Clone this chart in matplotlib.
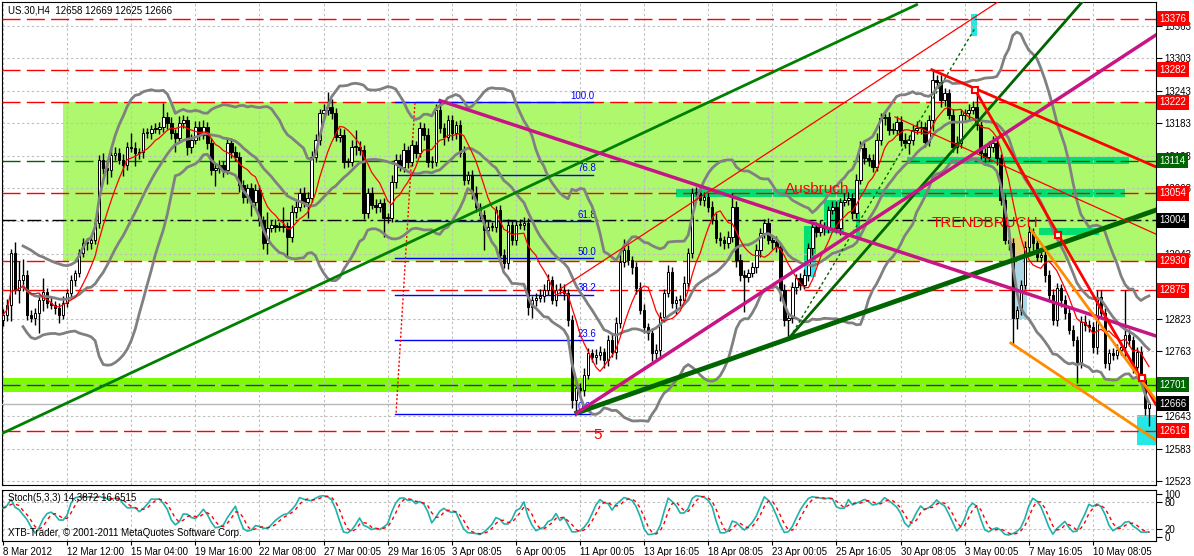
import numpy as np
import pandas as pd
import matplotlib
matplotlib.use('Agg')
from matplotlib import pyplot as plt
from matplotlib.patches import Rectangle

plt.rcParams['font.family'] = ['Liberation Sans', 'DejaVu Sans']

# US.30 H4 candles, closes read bar by bar (open = previous close)
first_open = 12820
closes = [
    12830, 12848, 12944, 12876, 12894, 12903, 12830, 12824, 12833, 12857, 12872, 12852, 12848, 12842, 12830, 12852,
    12870, 12894, 12907, 12944, 12962, 12962, 12968, 12999, 13116, 13101, 13097, 13125, 13129, 13116, 13106, 13140,
    13138, 13129, 13130, 13165, 13165, 13173, 13173, 13177, 13195, 13184, 13165, 13156, 13184, 13189, 13140, 13153,
    13177, 13162, 13177, 13147, 13097, 13101, 13106, 13097, 13147, 13130, 13121, 13069, 13047, 13064, 13038, 13060,
    13005, 12962, 12990, 12996, 12992, 12992, 12994, 12974, 13020, 13029, 13055, 13038, 13046, 13121, 13153, 13202,
    13208, 13213, 13202, 13158, 13162, 13112, 13112, 13140, 13140, 13134, 13018, 13055, 13033, 13029, 13036, 13009,
    13009, 13075, 13116, 13103, 13134, 13112, 13143, 13129, 13175, 13162, 13112, 13112, 13208, 13175, 13158, 13189,
    13165, 13180, 13129, 13079, 13088, 13055, 13029, 13014, 12986, 12992, 12992, 13023, 12940, 12926, 12996, 12968,
    12996, 12996, 12999, 12844, 12857, 12861, 12865, 12876, 12894, 12857, 12876, 12876, 12870, 12820, 12673, 12695,
    12691, 12719, 12759, 12752, 12756, 12761, 12746, 12783, 12761, 12815, 12927, 12949, 12931, 12918, 12879, 12839,
    12807, 12796, 12759, 12765, 12826, 12870, 12909, 12852, 12857, 12857, 12889, 12944, 13055, 13055, 13042, 13047,
    13029, 13005, 12972, 12968, 12962, 12974, 13029, 12931, 12903, 12900, 12907, 12918, 12949, 12981, 12999, 12968,
    12964, 12955, 12876, 12820, 12824, 12881, 12898, 12885, 12903, 12953, 12992, 12983, 12992, 12990, 13023, 13029,
    12990, 13038, 13042, 13046, 13018, 13079, 13138, 13119, 13116, 13103, 13153, 13193, 13195, 13171, 13171, 13186,
    13153, 13147, 13153, 13171, 13175, 13177, 13149, 13189, 13263, 13260, 13226, 13239, 13199, 13140, 13147, 13199,
    13202, 13208, 13213, 13180, 13129, 13121, 13140, 13147, 13119, 13042, 12968, 12962, 12824, 12839, 12885, 12955,
    12983, 12962, 12937, 12940, 12903, 12866, 12820, 12879, 12857, 12833, 12802, 12783, 12743, 12817, 12811, 12807,
    12770, 12863, 12833, 12741, 12759, 12756, 12765, 12770, 12793, 12783, 12734, 12761, 12710, 12658, 12666,
]
wick_up = [
    10, 12, 8, 20, 35, 30, 10, 8, 10, 12, 25, 8, 10, 8, 10, 12,
    8, 10, 6, 8, 10, 10, 8, 10, 8, 12, 15, 12, 10, 8, 10, 8,
    25, 10, 8, 10, 10, 8, 10, 8, 26, 10, 10, 8, 12, 10, 8, 10,
    10, 10, 12, 8, 10, 8, 10, 8, 8, 10, 12, 10, 10, 8, 10, 12,
    10, 8, 30, 8, 10, 10, 35, 8, 12, 10, 8, 10, 10, 12, 10, 8,
    10, 28, 15, 10, 12, 10, 8, 12, 30, 10, 10, 8, 10, 10, 8, 10,
    8, 12, 10, 10, 12, 8, 10, 8, 10, 8, 12, 10, 10, 15, 8, 10,
    10, 8, 10, 12, 8, 10, 12, 8, 10, 12, 10, 8, 10, 12, 10, 8,
    8, 10, 12, 10, 8, 10, 12, 10, 12, 8, 10, 12, 10, 8, 10, 12,
    10, 12, 10, 8, 10, 12, 8, 10, 12, 10, 20, 20, 10, 8, 10, 12,
    10, 8, 10, 12, 10, 8, 12, 10, 8, 10, 12, 10, 8, 10, 12, 10,
    8, 10, 12, 10, 8, 10, 25, 10, 12, 10, 8, 10, 12, 10, 8, 10,
    10, 12, 8, 10, 12, 10, 8, 10, 12, 10, 8, 10, 12, 10, 8, 10,
    10, 8, 12, 10, 8, 10, 12, 10, 8, 10, 12, 10, 8, 10, 12, 10,
    10, 12, 8, 10, 12, 10, 8, 10, 19, 10, 12, 10, 8, 10, 12, 10,
    8, 10, 12, 32, 10, 8, 10, 12, 10, 8, 10, 12, 10, 8, 10, 12,
    10, 8, 12, 10, 8, 10, 12, 10, 8, 10, 12, 10, 8, 10, 12, 10,
    10, 13, 12, 10, 8, 10, 12, 10, 83, 10, 8, 10, 12, 8, 3,
]
wick_dn = [
    10, 12, 30, 8, 25, 20, 10, 8, 12, 37, 20, 10, 8, 10, 15, 8,
    8, 8, 10, 8, 8, 12, 10, 8, 8, 12, 25, 12, 10, 8, 20, 8,
    8, 25, 12, 10, 8, 10, 8, 10, 10, 12, 10, 25, 8, 10, 15, 12,
    8, 10, 8, 12, 10, 30, 10, 12, 8, 10, 8, 12, 10, 10, 25, 8,
    12, 10, 20, 8, 10, 8, 10, 37, 10, 12, 8, 10, 30, 8, 10, 10,
    8, 10, 10, 8, 10, 12, 10, 8, 15, 10, 12, 10, 8, 12, 10, 35,
    10, 8, 12, 8, 10, 12, 8, 10, 8, 10, 10, 12, 8, 10, 15, 8,
    12, 10, 8, 10, 8, 12, 10, 8, 37, 10, 8, 10, 12, 10, 12, 10,
    10, 8, 10, 15, 20, 10, 8, 12, 10, 8, 10, 8, 12, 10, 15, 26,
    12, 10, 8, 10, 12, 10, 15, 10, 8, 12, 10, 8, 10, 12, 10, 8,
    10, 12, 15, 10, 12, 10, 8, 10, 20, 10, 8, 12, 10, 8, 10, 12,
    10, 8, 10, 12, 10, 8, 10, 12, 10, 65, 10, 8, 10, 12, 10, 8,
    12, 10, 20, 10, 37, 10, 12, 10, 8, 10, 12, 10, 8, 12, 10, 8,
    10, 12, 8, 10, 12, 10, 8, 10, 12, 10, 8, 10, 12, 10, 8, 10,
    12, 10, 20, 10, 8, 12, 10, 8, 20, 10, 12, 10, 8, 10, 12, 10,
    10, 12, 8, 10, 12, 10, 8, 10, 12, 10, 8, 12, 50, 20, 10, 8,
    10, 12, 8, 10, 12, 10, 8, 10, 12, 10, 8, 10, 39, 12, 10, 8,
    10, 12, 8, 10, 12, 10, 8, 10, 20, 10, 12, 10, 8, 12, 33,
]

date_labels = ["8 Mar 2012", "12 Mar 12:00", "15 Mar 04:00", "19 Mar 16:00", "22 Mar 08:00",
               "27 Mar 00:05", "29 Mar 16:05", "3 Apr 08:05", "6 Apr 00:05", "11 Apr 00:05",
               "13 Apr 16:05", "18 Apr 08:05", "23 Apr 00:05", "25 Apr 16:05", "30 Apr 08:05",
               "3 May 00:05", "7 May 16:05", "10 May 08:05"]
price_ticks = [12523, 12583, 12643, 12703, 12763, 12823, 12883, 12943, 13003, 13063,
               13123, 13183, 13243, 13303, 13363]
# tick labels fully hidden behind a price tag in the reference
hidden_ticks = [12703, 12883, 13003]

tag_prices = [13376, 13282, 13222, 13114, 13054, 13004, 12930, 12875, 12701, 12666, 12616]
tag_colors = ['red', 'red', 'red', '#006400', 'red', 'black', 'red', 'red', '#006400', 'black', 'red']
red_levels = [13376, 13282, 13222, 13054, 12930, 12875, 12616]
green_levels = [13114, 12701]
black_level = 13004
bid_level = 12666

fib_low = 12647
fib_high = 13222
fib_ratios = [100.0, 76.8, 61.8, 50.0, 38.2, 23.6, 0.0]
fib_span = [97.8, 147.2]

# drawn objects: (bars, prices)
zone_box = ([15, 300], [12930, 13222])
lime_band = [12687, 12713]
bars_13114 = ([225.5, 281], [13108, 13121])
bars_13054 = ([168, 280], [13047, 13062])
bars_trend = ([258.5, 273.5], [12977, 12990])
box_a = ([205, 210], [12981, 13042])
box_b = ([200, 203], [12931, 12994])
box_b_cyan = ([200, 203], [12900, 12931])
box_c = ([213, 214], [12972, 13020])
cyan_top = ([241.7, 243], [13345, 13385])
cyan_bottom = ([283, 288.5], [12590, 12645])
blue_box = ([251.5, 255.5], [12822, 12937])
khaki_box = ([251.5, 255.5], [12937, 12974])

green_long = ([0, 228], [12612, 13402])
green_thick = ([143.2, 287.7], [12649, 13023])
green_steep = ([196.4, 269.8], [12789, 13411])
green_dotted = ([197.2, 242.6], [12798, 13359])
magenta_down = ([109.1, 287.7], [13225, 12791])
magenta_up = ([143.2, 287.7], [12649, 13346])
red_thin_up = ([138.3, 249.1], [12874, 13411])
red_thin_down = ([222.6, 287.7], [13195, 12979])
red_thick_down = ([231.8, 287.7], [13282, 13103])
red_steep = ([242.6, 287.7], [13245, 12665])
red_marks = ([242.6, 263.3, 284.3], [13245, 12977, 12713])
orange_a = ([256.6, 287.7], [12986, 12673])
orange_b = ([251.5, 287.7], [12778, 12599])
fib_dotted = ([102.8, 98.1], [13221, 12649])

n = len(closes)
idx = np.arange(n)
opens = [first_open] + closes[:-1]
o = np.array(opens, float)
c = np.array(closes, float)
highs = np.maximum(o, c) + np.array(wick_up)
lows = np.minimum(o, c) - np.array(wick_dn)

s = pd.Series(c)
mid = s.rolling(20, min_periods=6).mean()
sd = s.rolling(20, min_periods=6).std(ddof=0)
ma = s.rolling(8, min_periods=1).mean()
ll = pd.Series(lows).rolling(5, min_periods=1).min()
hh = pd.Series(highs).rolling(5, min_periods=1).max()
k = (s - ll).rolling(3, min_periods=1).sum() / (hh - ll).rolling(3, min_periods=1).sum() * 100
d = k.rolling(3, min_periods=1).mean()

fig = plt.figure(figsize=(11.94, 5.56), dpi=100)
ax = fig.add_axes([2 / 1194, 71 / 556, 1154 / 1194, 483 / 556])
ax2 = fig.add_axes([2 / 1194, 15 / 556, 1154 / 1194, 51 / 556])

grid_bars = np.arange(0, 16 * len(date_labels), 16)
gridc = '#c0c0c0'


def rect(a, box, color, z=1):
    (x0, x1), (y0, y1) = box
    a.add_patch(Rectangle((x0, y0), x1 - x0, y1 - y0, facecolor=color, edgecolor='none', zorder=z))


rect(ax, zone_box, '#aef86e')
ax.axhspan(lime_band[0], lime_band[1], color='#7cfc00', zorder=1, lw=0)
for b in [bars_13114, bars_13054, bars_trend, box_a, box_b, box_c]:
    rect(ax, b, '#00e070', 1.5)
rect(ax, box_b_cyan, '#22e8e8', 1.5)
rect(ax, cyan_top, '#22e8e8', 1.5)
rect(ax, cyan_bottom, '#22e8e8', 1.5)
rect(ax, blue_box, '#add8e6', 1.5)
rect(ax, khaki_box, '#e6d26e', 1.5)

for p in price_ticks:
    ax.axhline(p, color=gridc, lw=0.8, ls=(0, (2.2, 2.2)), zorder=2)
for b in grid_bars:
    ax.axvline(b, color=gridc, lw=0.8, ls=(0, (2.2, 2.2)), zorder=2)
    ax2.axvline(b, color=gridc, lw=0.8, ls=(0, (2.2, 2.2)), zorder=1)
for p in [20, 80]:
    ax2.axhline(p, color=gridc, lw=0.8, ls=(0, (2.2, 2.2)), zorder=1)

for p in red_levels:
    ax.axhline(p, color='red', lw=1, ls=(0, (13, 4.5)), zorder=3)
for p in green_levels:
    ax.axhline(p, color='#006400', lw=1, ls=(0, (13, 4.5)), zorder=3)
ax.axhline(black_level, color='black', lw=1, ls=(0, (10, 3, 2, 3)), zorder=3)
ax.axhline(bid_level, color='#b8b8b8', lw=1, zorder=3)

# fibonacci
for r in fib_ratios:
    lv = fib_low + (fib_high - fib_low) * r / 100
    ax.plot(fib_span, [lv, lv], color='blue', lw=1, zorder=3)
    lx = 141.5 if r == 100.0 else 143.3
    ax.text(lx, lv + 3, '%.1f' % r, color='blue', fontsize=7, va='bottom', ha='left', zorder=4)
ax.plot(*fib_dotted, color='red', lw=1, ls=(0, (1.5, 1.5)), zorder=3)

# candles
up = c >= o
ax.vlines(idx, lows, highs, color='black', lw=1, zorder=4)
ax.bar(idx, np.maximum(np.abs(c - o), 1.5), bottom=np.minimum(o, c), width=0.62,
       color=np.where(up, 'white', 'black'), edgecolor='black', lw=0.7, zorder=4)

# indicators
ax.plot(idx, mid + 2 * sd, color='#808080', lw=2, zorder=5)
ax.plot(idx, mid, color='#808080', lw=2, zorder=5)
ax.plot(idx, mid - 2 * sd, color='#808080', lw=2, zorder=5)
ax.plot(idx, ma, color='red', lw=0.9, zorder=5)

# trend lines
ax.plot(*green_long, color='#008000', lw=2, zorder=6)
ax.plot(*green_thick, color='#006400', lw=3.5, zorder=6)
ax.plot(*green_steep, color='#006400', lw=2, zorder=6)
ax.plot(*green_dotted, color='#006400', lw=1, ls=(0, (2, 2)), zorder=6)
ax.plot(*magenta_down, color='#c71585', lw=2.5, zorder=6)
ax.plot(*magenta_up, color='#c71585', lw=2.5, zorder=6)
ax.plot(*red_thin_up, color='red', lw=0.9, zorder=6)
ax.plot(*red_thin_down, color='red', lw=0.9, zorder=6)
ax.plot(*red_thick_down, color='red', lw=2, zorder=6)
ax.plot(*red_steep, color='red', lw=2, zorder=6)
ax.plot(*orange_a, color='#ff8c00', lw=2, zorder=6)
ax.plot(*orange_b, color='#ff8c00', lw=2, zorder=6)
ax.plot(*red_marks, ls='none', marker='s', ms=5, mfc='white', mec='red', mew=1.5, zorder=7)

ax.text(195.2, 13062, 'Ausbruch', color='red', fontsize=11, va='center', ha='left', zorder=7)
ax.text(231.8, 12999, 'TRENDBRUCH', color='red', fontsize=11, va='center', ha='left', zorder=7)
ax.text(147.3, 12608, '5', color='red', fontsize=11, va='center', ha='left', zorder=7)
ax.text(0.005, 0.992, 'US.30,H4  12658 12669 12625 12666', transform=ax.transAxes,
        fontsize=7, va='top', ha='left', zorder=8)

ax.set_xlim(-0.25, 287.75)
ax.set_ylim(12516, 13407)
ax.set_xticks([])
ax.yaxis.tick_right()
ax.set_yticks(price_ticks)
ax.set_yticklabels(['' if p in hidden_ticks else str(p) for p in price_ticks])
ax.tick_params(axis='y', length=4, pad=2, labelsize=7)
for p, col in zip(tag_prices, tag_colors):
    ax.text(1.0028, p, str(p), transform=ax.get_yaxis_transform(), ha='left', va='center',
            fontsize=7, color='white', zorder=10, clip_on=False,
            bbox=dict(boxstyle='square,pad=0.25', fc=col, ec='none'))

# stochastic
ax2.plot(idx, k, color='#20b2aa', lw=1.2, zorder=3)
ax2.plot(idx, d, color='red', lw=1, ls=(0, (2.5, 2.5)), zorder=3)
ax2.set_xlim(-0.25, 287.75)
ax2.set_ylim(-8, 108)
ax2.yaxis.tick_right()
ax2.set_yticks([0, 20, 80, 100])
ax2.set_yticklabels(['0', '20', '80', '100'])
ax2.tick_params(axis='y', length=4, pad=2, labelsize=7)
ax2.set_xticks(grid_bars)
ax2.set_xticklabels(date_labels, ha='left')
ax2.tick_params(axis='x', length=3, pad=1, labelsize=7)
ax2.text(0.005, 0.95, 'Stoch(5,3,3) 14.3872 16.6515', transform=ax2.transAxes, fontsize=7,
         va='top', ha='left', zorder=5)
ax2.text(0.005, 0.06, 'XTB-Trader, \u00a9 2001-2011 MetaQuotes Software Corp.', transform=ax2.transAxes,
         fontsize=7, va='bottom', ha='left', zorder=5)

fig.savefig('out.png', dpi=100)
